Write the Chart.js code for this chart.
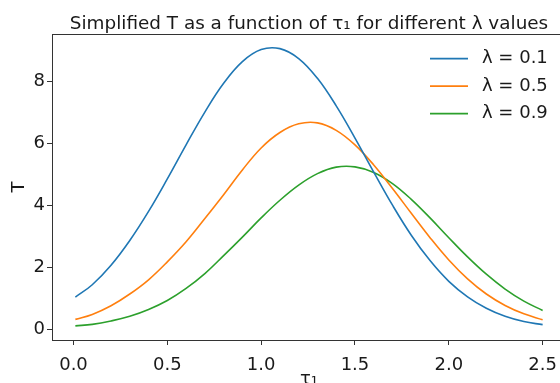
<!DOCTYPE html>
<html>
<head>
<meta charset="utf-8">
<script src="https://cdn.jsdelivr.net/npm/chart.js@4.4.0/dist/chart.umd.min.js"></script>
<style>
  html, body { margin: 0; padding: 0; background: #fff; overflow: hidden; }
  #wrap { width: 618px; height: 383px; }
</style>
</head>
<body>
<div id="wrap"><canvas id="chart" width="618" height="383"></canvas></div>
<script>
// tau_1 sample points
const tau = [0.01, 0.1, 0.2, 0.3, 0.4, 0.5, 0.6, 0.7, 0.8, 0.9, 1.0, 1.1, 1.2,
             1.3, 1.4, 1.5, 1.6, 1.7, 1.8, 1.9, 2.0, 2.1, 2.2, 2.3, 2.4, 2.5];

// T values
const tLambda01 = [1.04, 1.44, 2.07, 2.87, 3.81, 4.86, 5.96, 7.02, 7.95, 8.65, 9.04, 9.07, 8.75,
                   8.11, 7.22, 6.18, 5.08, 4.01, 3.04, 2.22, 1.55, 1.05, 0.68, 0.42, 0.25, 0.15];
const tLambda05 = [0.32, 0.48, 0.76, 1.14, 1.60, 2.18, 2.83, 3.58, 4.35, 5.15, 5.86, 6.36, 6.64,
                   6.67, 6.43, 5.96, 5.31, 4.55, 3.75, 2.96, 2.24, 1.63, 1.14, 0.77, 0.50, 0.31];
const tLambda09 = [0.11, 0.16, 0.27, 0.42, 0.64, 0.93, 1.32, 1.80, 2.38, 2.98, 3.60, 4.17, 4.66,
                   5.03, 5.24, 5.25, 5.07, 4.71, 4.20, 3.60, 2.96, 2.34, 1.78, 1.30, 0.91, 0.61];

const seriesNames = ['λ = 0.1', 'λ = 0.5', 'λ = 0.9'];
const seriesColors = ['#1f77b4', '#ff7f0e', '#2ca02c'];

const xTicks = [0.0, 0.5, 1.0, 1.5, 2.0, 2.5];
const yTicks = [0, 2, 4, 6, 8];

const FONT = 'DejaVu Sans';
const TEXT = '#1a1a1a';

// frame around the axes + legend in the upper right, matplotlib style
const frameAndLegend = {
  id: 'frameAndLegend',
  afterDatasetsDraw(chart) {
    const { ctx, chartArea: a } = chart;
    ctx.save();
    ctx.strokeStyle = '#333';
    ctx.lineWidth = 1;
    ctx.strokeRect(Math.round(a.left) + 0.5, Math.round(a.top) + 0.5,
                   Math.round(a.right - a.left), Math.round(a.bottom - a.top));

    ctx.font = '18px "' + FONT + '"';
    ctx.textBaseline = 'middle';
    ctx.textAlign = 'left';
    chart.data.datasets.forEach((ds, i) => {
      const y = a.top + 24.5 + i * 27.5;
      ctx.strokeStyle = ds.borderColor;
      ctx.lineWidth = 1.6;
      ctx.beginPath();
      ctx.moveTo(a.right - 136, y);
      ctx.lineTo(a.right - 98, y);
      ctx.stroke();
      ctx.fillStyle = TEXT;
      ctx.fillText(ds.label, a.right - 84, y);
    });
    ctx.restore();
  }
};

const datasets = [tLambda01, tLambda05, tLambda09].map((vals, i) => ({
  label: seriesNames[i],
  data: tau.map((x, j) => ({ x: x, y: vals[j] })),
  borderColor: seriesColors[i],
  backgroundColor: seriesColors[i],
  borderWidth: 1.6,
  pointRadius: 0,
  tension: 0.4,
  fill: false
}));

new Chart(document.getElementById('chart').getContext('2d'), {
  type: 'line',
  data: { datasets },
  options: {
    responsive: false,
    animation: false,
    devicePixelRatio: 1,
    layout: { padding: 0 },
    plugins: {
      legend: { display: false },
      tooltip: { enabled: false },
      title: {
        display: true,
        text: 'Simplified T as a function of τ₁ for different λ values',
        color: TEXT,
        font: { family: FONT, size: 18.4, weight: 'normal' },
        padding: { top: 13, bottom: -1 }
      }
    },
    scales: {
      x: {
        type: 'linear',
        min: -0.1145,
        max: 2.6245,
        afterBuildTicks: s => { s.ticks = xTicks.map(v => ({ value: v })); },
        afterFit: s => { s.height = 43; },
        ticks: {
          color: TEXT,
          font: { family: FONT, size: 18 },
          padding: 10,
          maxRotation: 0,
          callback: v => v.toFixed(1)
        },
        grid: { drawOnChartArea: false, drawTicks: true, tickLength: 5, color: '#333' },
        border: { display: false },
        title: {
          display: true,
          text: 'τ₁',
          color: TEXT,
          font: { family: FONT, size: 18 },
          padding: { top: 0, bottom: -7 }
        }
      },
      y: {
        min: -0.346,
        max: 9.54,
        afterBuildTicks: s => { s.ticks = yTicks.map(v => ({ value: v })); },
        afterFit: s => { s.width = 52; },
        ticks: {
          color: TEXT,
          font: { family: FONT, size: 18 },
          padding: 2,
          callback: v => String(v)
        },
        grid: { drawOnChartArea: false, drawTicks: true, tickLength: 5, color: '#333' },
        border: { display: false },
        title: {
          display: true,
          text: 'T',
          color: TEXT,
          font: { family: FONT, size: 18 },
          padding: { top: 9, bottom: 0 }
        }
      },
      // empty right-hand axis, only to balance the layout so the title is centred over the axes
      yPad: {
        position: 'right',
        min: 0,
        max: 1,
        afterFit: s => { s.width = 52; },
        ticks: { display: false },
        grid: { display: false },
        border: { display: false }
      }
    }
  },
  plugins: [frameAndLegend]
});
</script>
</body>
</html>
